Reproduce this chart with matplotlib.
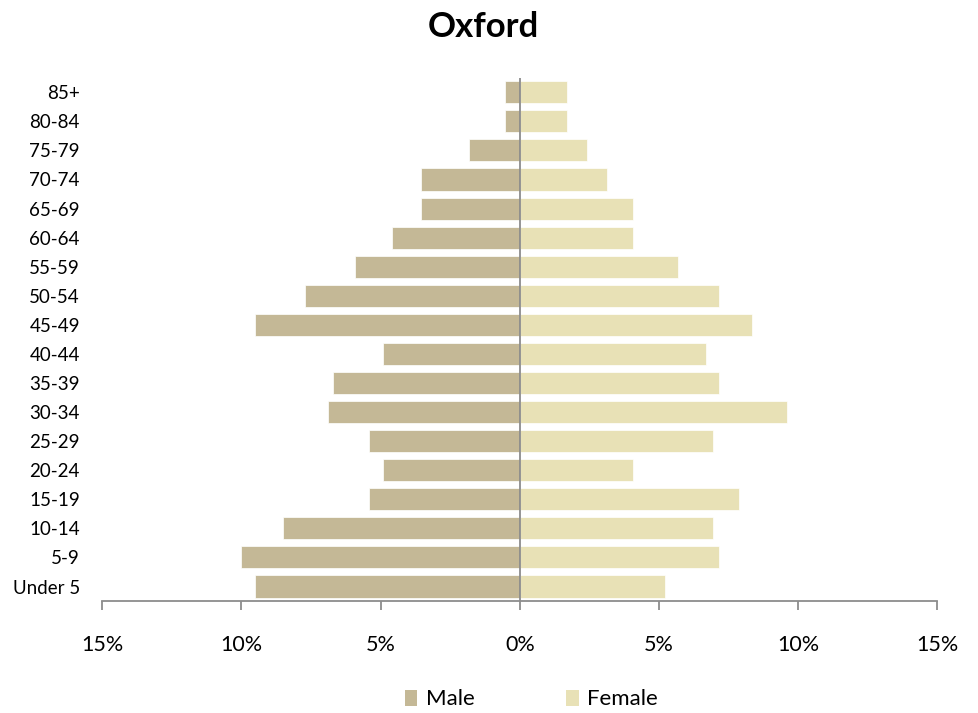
import matplotlib
matplotlib.use("Agg")
import matplotlib.pyplot as plt
from matplotlib.patches import Patch
from matplotlib.ticker import FuncFormatter

age_groups = ["Under 5", "5-9", "10-14", "15-19", "20-24", "25-29", "30-34", "35-39",
              "40-44", "45-49", "50-54", "55-59", "60-64", "65-69", "70-74", "75-79",
              "80-84", "85+"]
male = [9.5, 10.0, 8.5, 5.4, 4.9, 5.4, 6.9, 6.7, 4.9, 9.5, 7.7, 5.9, 4.6, 3.56, 3.56, 1.83, 0.54, 0.54]
female = [5.2, 7.15, 6.94, 7.87, 4.06, 6.94, 9.6, 7.15, 6.68, 8.34, 7.15, 5.7, 4.06, 4.06, 3.13, 2.4, 1.69, 1.69]
x_ticks = [-15, -10, -5, 0, 5, 10, 15]

plt.rcParams['font.family'] = ['Lato', 'DejaVu Sans']

male_color = "#C4B896"
female_color = "#E8E1B6"
axis_color = "#8C8C8C"

fig = plt.figure(figsize=(9.79, 7.13), dpi=100)
ax = fig.add_axes([0.1042, 0.157, 0.8534, 0.734])

y = list(range(len(age_groups)))
ax.barh(y, [-m for m in male], height=0.76, color=male_color, edgecolor="white", linewidth=0.5, label="Male")
ax.barh(y, female, height=0.76, color=female_color, edgecolor="white", linewidth=0.5, label="Female")

ax.set_xlim(-15, 15)
ax.set_ylim(-0.5, len(age_groups) - 0.5)
ax.axvline(0, color=axis_color, linewidth=1.3)

ax.set_xticks(x_ticks)
ax.xaxis.set_major_formatter(FuncFormatter(lambda v, p: f"{abs(int(round(v)))}%"))
ax.set_yticks(y)
ax.set_yticklabels(age_groups)

for s in ["left", "right", "top"]:
    ax.spines[s].set_visible(False)
ax.spines["bottom"].set_color(axis_color)
ax.spines["bottom"].set_linewidth(1.3)

ax.tick_params(axis="x", direction="out", length=6.5, width=1.3, color=axis_color,
               pad=18, labelsize=15.5, labelcolor="black")
ax.tick_params(axis="y", length=0, pad=16, labelsize=13.5, labelcolor="black")

fig.text(0.494, 0.962, "Oxford", ha="center", va="center", fontsize=25, fontweight="bold")

handles = [Patch(facecolor=male_color, label="Male"), Patch(facecolor=female_color, label="Female")]
fig.legend(handles=handles, loc="center", bbox_to_anchor=(0.543, 0.019), ncol=2, frameon=False,
           fontsize=16, handlelength=0.56, handleheight=0.75, handletextpad=0.4, columnspacing=4.1,
           borderpad=0.2)

fig.savefig("out.png", dpi=100)
